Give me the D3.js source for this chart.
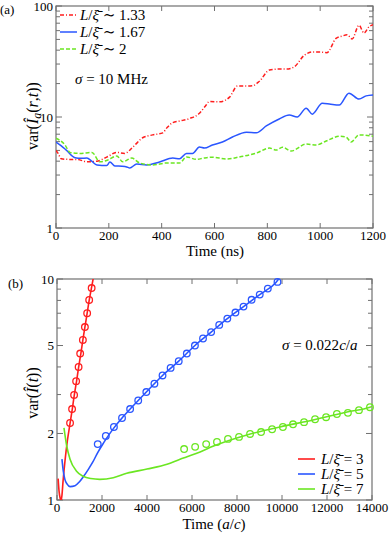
<!DOCTYPE html>
<html><head><meta charset="utf-8">
<script src="https://cdn.jsdelivr.net/npm/d3@7"></script>
<style>
html,body{margin:0;padding:0;background:#fff;}
svg{display:block;}
</style></head>
<body>
<svg id="c" width="389" height="533" font-family="'Liberation Serif', 'Times New Roman', 'DejaVu Serif', serif"></svg>
<script>
// ---------- Panel (a) data ----------
const aRedT = [0,8,20,50,80,117,155,192,230,260,291,328,366,404,420,442,468,506,543,565,581,619,657,687,720,743,770,808,840,872,902,940,970,1000,1026,1060,1083,1102,1121,1147,1166,1185,1200];
const aRedV = [5.0,4.7,4.2,4.15,4.15,3.95,4.0,4.35,4.8,4.7,5.35,6.5,6.9,7.2,8.0,8.9,9.2,9.7,10.8,12.5,13.8,13.7,15.1,19.0,19.0,19.1,21,26.5,27,27,28.3,36,38.5,38.5,38,51,53.5,55,50.5,67,57,65,68];
const aBlueT = [0,20,40,72,95,117,135,155,192,204,223,250,268,279,306,343,392,442,468,494,517,543,562,592,630,668,721,758,796,845,883,913,947,970,1008,1040,1072,1109,1147,1174,1200];
const aBlueV = [5.95,5.5,5.0,4.3,4.25,4.27,4.0,3.7,3.65,3.93,3.62,3.6,3.55,3.47,3.77,3.7,3.93,4.27,4.2,4.7,4.7,5.36,5.25,5.6,5.95,6.6,7.3,7.2,8.3,9.6,10.4,10.0,12.0,10.6,13.3,13.0,12.8,16.4,14.5,15.5,15.8];
const aGreenT = [0,34,53,91,136,166,196,230,253,287,317,366,419,468,494,532,560,592,645,694,758,808,834,857,890,947,985,1023,1072,1098,1117,1147,1200];
const aGreenV = [6.45,5.6,4.8,4.7,4.8,3.95,4.1,4.45,3.95,4.27,3.85,3.7,3.85,3.85,4.37,4.15,4.27,4.35,4.18,4.37,4.73,5.25,5.04,5.35,4.94,5.7,5.6,6.07,6.7,6.6,5.95,6.9,6.7];
const aXTicks = [0,200,400,600,800,1000,1200];
const aYTicks = [1,10,100];
const aLegend = ["1.33","1.67","2"];

// ---------- Panel (b) data ----------
const bRedLineT = [50,90,140,180,220,270,360,460,580,680,770,870,960,1060,1150,1240,1340,1430,1530,1630];
const bRedLineV = [1.25,1.1,1.02,0.99,1.05,1.22,1.52,1.85,2.22,2.58,2.99,3.45,3.98,4.6,5.3,6.06,7.0,8.0,9.1,10.3];
const bRedPtT = [580,670,760,850,960,1030,1150,1240,1340,1430,1540];
const bRedPtV = [2.23,2.58,2.99,3.45,4.0,4.6,5.3,6.06,7.0,8.04,9.1];
const bBlueLineT = [220,280,350,450,580,800,1000,1160,1400,1600,1810,2050,2170,2530,2890,3250,3610,3970,4690,5410,6130,6850,7570,8290,9010,9730,9850];
const bBlueLineV = [1.53,1.35,1.24,1.18,1.15,1.16,1.21,1.27,1.38,1.49,1.64,1.8,1.88,2.12,2.35,2.58,2.82,3.08,3.66,4.25,5.0,5.75,6.62,7.5,8.5,9.65,10.0];
const bBluePtT = [1810,2170,2530,2890,3250,3610,3970,4330,4690,5050,5410,5770,6130,6490,6850,7210,7570,7930,8290,8650,9010,9370,9800];
const bBluePtV = [1.79,1.95,2.14,2.35,2.58,2.82,3.08,3.36,3.66,3.96,4.25,4.6,5.0,5.38,5.75,6.2,6.62,7.05,7.5,8.05,8.5,9.05,9.7];
const bGreenLineT = [310,430,580,870,1160,1500,1900,2500,3100,4000,4890,5470,5780,6360,6930,8440,9910,11380,12890,13910,14000];
const bGreenLineV = [2.12,1.76,1.53,1.35,1.28,1.25,1.24,1.26,1.32,1.38,1.45,1.53,1.57,1.65,1.75,1.97,2.14,2.3,2.5,2.63,2.65];
const bGreenPtT = [5650,6140,6630,7110,7600,8090,8580,9070,9560,10040,10490,10980,11470,11960,12440,12930,13420,13910];
const bGreenPtV = [1.70,1.74,1.79,1.83,1.89,1.93,1.99,2.03,2.09,2.14,2.2,2.25,2.32,2.37,2.45,2.48,2.55,2.63];
const bXTicks = [0,2000,4000,6000,8000,10000,12000,14000];
const bYTicks = [1,2,5,10];
const bLegend = ["3","5","7"];

const RED = "#ff1e1e", BLUE = "#2a56ff", GREEN = "#6be622";
const AXIS = "#707070";
const FONT = "'Liberation Serif', 'Times New Roman', 'DejaVu Serif', serif";

const svg = d3.select("#c");
const zip = (t, v) => t.map((d, i) => [d, v[i]]);
const txt = (g) => g.append("text").attr("font-family", FONT).attr("fill", "#000");

function frame(g, x, y, xt, yt, minorY) {
  const [x0, x1] = x.range(), [y0, y1] = y.range();
  const tk = g.append("g").attr("stroke", AXIS).attr("stroke-width", 1);
  xt.forEach(v => {
    const px = x(v);
    tk.append("line").attr("x1", px).attr("x2", px).attr("y1", y0).attr("y2", y0 - 5);
    tk.append("line").attr("x1", px).attr("x2", px).attr("y1", y1).attr("y2", y1 + 5);
  });
  minorY.forEach(v => {
    const py = y(v), len = yt.includes(v) ? 6 : 4;
    tk.append("line").attr("x1", x0).attr("x2", x0 + len).attr("y1", py).attr("y2", py);
    tk.append("line").attr("x1", x1).attr("x2", x1 - len).attr("y1", py).attr("y2", py);
  });
  g.append("rect").attr("x", x0).attr("y", y1).attr("width", x1 - x0).attr("height", y0 - y1)
    .attr("fill", "none").attr("stroke", AXIS).attr("stroke-width", 1.2);
  xt.forEach(v => txt(g).attr("x", x(v)).attr("y", y0 + 12).attr("text-anchor", "middle")
    .attr("font-size", 13).text(v));
  yt.forEach(v => txt(g).attr("x", x0 - 3).attr("y", y(v) + 4.5).attr("text-anchor", "end")
    .attr("font-size", 13).text(v));
}

// ===== Panel (a) =====
const ax = d3.scaleLinear().domain([0, 1200]).range([56, 373]);
const ay = d3.scaleLog().domain([1, 100]).range([228, 6]);
const ga = svg.append("g");
const aMinor = [];
[1, 10].forEach(d => { for (let k = 1; k <= 9; k++) aMinor.push(d * k); });
aMinor.push(100);
frame(ga, ax, ay, aXTicks, aYTicks, aMinor);
ga.append("defs").append("clipPath").attr("id", "clipA").append("rect")
  .attr("x", 56).attr("y", 6).attr("width", 317).attr("height", 222);
const la = d3.line().x(d => ax(d[0])).y(d => ay(d[1])).curve(d3.curveMonotoneX);
const aSeries = [
  {d: zip(aRedT, aRedV), c: RED, dash: "4,2,1,2"},
  {d: zip(aBlueT, aBlueV), c: BLUE, dash: null},
  {d: zip(aGreenT, aGreenV), c: GREEN, dash: "4,2"}
];
aSeries.forEach(s => ga.append("path").attr("d", la(s.d)).attr("fill", "none").attr("stroke", s.c)
  .attr("stroke-width", 1.5).attr("stroke-dasharray", s.dash).attr("clip-path", "url(#clipA)"));
aSeries.forEach((s, i) => {
  const yy = 15 + i * 17;
  ga.append("line").attr("x1", 60).attr("x2", 77).attr("y1", yy).attr("y2", yy)
    .attr("stroke", s.c).attr("stroke-width", 1.5).attr("stroke-dasharray", s.dash);
  const t = txt(ga).attr("x", 80).attr("y", yy + 5).attr("font-size", 15);
  t.append("tspan").attr("font-style", "italic").text("L");
  t.append("tspan").text("/");
  t.append("tspan").attr("font-style", "italic").text("ξ\u0304");
  t.append("tspan").text(" \u223C " + aLegend[i]);
});
{
  const t = txt(ga).attr("x", 75).attr("y", 84).attr("font-size", 15);
  t.append("tspan").attr("font-style", "italic").text("σ");
  t.append("tspan").text(" = 10 MHz");
}
txt(ga).attr("x", 0).attr("y", 14).attr("font-size", 13).text("(a)");
txt(ga).attr("x", 215).attr("y", 256).attr("text-anchor", "middle").attr("font-size", 15).text("Time (ns)");
{
  const t = txt(ga).attr("transform", "translate(38,116) rotate(-90)").attr("text-anchor", "middle").attr("font-size", 16);
  t.append("tspan").text("var(");
  t.append("tspan").attr("font-style", "italic").text("Î");
  t.append("tspan").attr("font-style", "italic").attr("font-size", 12).attr("dy", 3).text("a");
  t.append("tspan").attr("dy", -3).text("(");
  t.append("tspan").attr("font-style", "italic").text("r");
  t.append("tspan").text(",");
  t.append("tspan").attr("font-style", "italic").text("t");
  t.append("tspan").text("))");
}

// ===== Panel (b) =====
const bx = d3.scaleLinear().domain([0, 14000]).range([57, 372]);
const by = d3.scaleLog().domain([1, 10]).range([500, 279]);
const gb = svg.append("g");
frame(gb, bx, by, bXTicks, bYTicks, [1,2,3,4,5,6,7,8,9,10]);
gb.append("defs").append("clipPath").attr("id", "clipB").append("rect")
  .attr("x", 57).attr("y", 279).attr("width", 315).attr("height", 221);
const lb = d3.line().x(d => bx(d[0])).y(d => by(d[1])).curve(d3.curveMonotoneX);
const bSeries = [
  {l: zip(bRedLineT, bRedLineV), p: zip(bRedPtT, bRedPtV), c: RED},
  {l: zip(bBlueLineT, bBlueLineV), p: zip(bBluePtT, bBluePtV), c: BLUE},
  {l: zip(bGreenLineT, bGreenLineV), p: zip(bGreenPtT, bGreenPtV), c: GREEN}
];
bSeries.forEach(s => {
  gb.append("path").attr("d", lb(s.l)).attr("fill", "none").attr("stroke", s.c)
    .attr("stroke-width", 1.6).attr("clip-path", "url(#clipB)");
  gb.append("g").selectAll("circle").data(s.p).join("circle")
    .attr("cx", d => bx(d[0])).attr("cy", d => by(d[1])).attr("r", 3.3)
    .attr("fill", "none").attr("stroke", s.c).attr("stroke-width", 1.3);
});
bSeries.forEach((s, i) => {
  const yy = 459 + i * 15;
  gb.append("line").attr("x1", 298).attr("x2", 315).attr("y1", yy).attr("y2", yy)
    .attr("stroke", s.c).attr("stroke-width", 1.6);
  const t = txt(gb).attr("x", 321).attr("y", yy + 5).attr("font-size", 15);
  t.append("tspan").attr("font-style", "italic").text("L");
  t.append("tspan").text("/");
  t.append("tspan").attr("font-style", "italic").text("ξ\u0304");
  t.append("tspan").text(" = " + bLegend[i]);
});
{
  const t = txt(gb).attr("x", 282).attr("y", 350).attr("font-size", 15);
  t.append("tspan").attr("font-style", "italic").text("σ");
  t.append("tspan").text(" = 0.022");
  t.append("tspan").attr("font-style", "italic").text("c");
  t.append("tspan").text("/");
  t.append("tspan").attr("font-style", "italic").text("a");
}
txt(gb).attr("x", 8).attr("y", 288).attr("font-size", 13).text("(b)");
{
  const t = txt(gb).attr("x", 214).attr("y", 529).attr("text-anchor", "middle").attr("font-size", 15);
  t.append("tspan").text("Time (");
  t.append("tspan").attr("font-style", "italic").text("a");
  t.append("tspan").text("/");
  t.append("tspan").attr("font-style", "italic").text("c");
  t.append("tspan").text(")");
}
{
  const t = txt(gb).attr("transform", "translate(38,393) rotate(-90)").attr("text-anchor", "middle").attr("font-size", 16);
  t.append("tspan").text("var(");
  t.append("tspan").attr("font-style", "italic").text("Î");
  t.append("tspan").text("(");
  t.append("tspan").attr("font-style", "italic").text("t");
  t.append("tspan").text("))");
}
</script>
</body></html>
